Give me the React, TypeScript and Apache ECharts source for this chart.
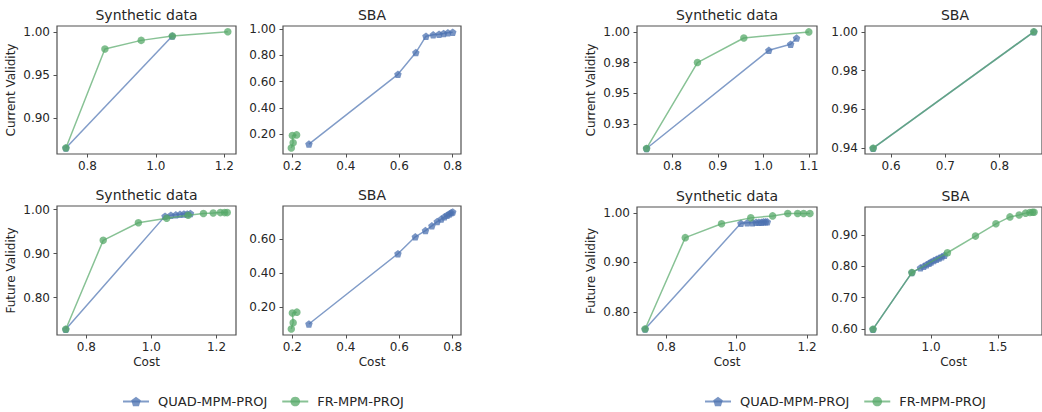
import React, { useEffect, useRef } from "react";
import * as echarts from "echarts";

// ---------- data ----------
const seriesNames = ["QUAD-MPM-PROJ", "FR-MPM-PROJ"];
const panelTitles = ["Synthetic data", "SBA", "Synthetic data", "SBA", "Synthetic data", "SBA", "Synthetic data", "SBA"];
const yAxisNames = ["Current Validity", "", "Future Validity", "", "Current Validity", "", "Future Validity", ""];
const xAxisNames = ["", "", "Cost", "Cost", "", "", "Cost", "Cost"];

// Panel 1: left, Synthetic data, current validity
const p1QuadX = [0.737, 1.048];
const p1QuadY = [0.865, 0.995];
const p1FrX = [0.737, 0.851, 0.957, 1.048, 1.21];
const p1FrY = [0.865, 0.98, 0.99, 0.995, 1.0];

// Panel 2: left, SBA, current validity
const p2QuadX = [0.262, 0.595, 0.662, 0.7, 0.727, 0.749, 0.766, 0.782, 0.8];
const p2QuadY = [0.125, 0.655, 0.82, 0.945, 0.955, 0.96, 0.965, 0.97, 0.975];
const p2FrX = [0.196, 0.203, 0.2, 0.216];
const p2FrY = [0.095, 0.135, 0.19, 0.195];

// Panel 3: left, Synthetic data, future validity
const p3QuadX = [0.737, 1.042, 1.06, 1.075, 1.088, 1.1, 1.11, 1.12];
const p3QuadY = [0.728, 0.985, 0.987, 0.988, 0.989, 0.99, 0.99, 0.991];
const p3FrX = [0.737, 0.852, 0.96, 1.047, 1.113, 1.16, 1.19, 1.212, 1.225, 1.233];
const p3FrY = [0.728, 0.93, 0.97, 0.98, 0.987, 0.991, 0.992, 0.993, 0.993, 0.993];

// Panel 4: left, SBA, future validity
const p4QuadX = [0.262, 0.595, 0.66, 0.698, 0.722, 0.742, 0.757, 0.769, 0.779, 0.787, 0.794, 0.8];
const p4QuadY = [0.1, 0.515, 0.615, 0.652, 0.68, 0.705, 0.72, 0.733, 0.743, 0.75, 0.757, 0.762];
const p4FrX = [0.196, 0.203, 0.2, 0.217];
const p4FrY = [0.07, 0.108, 0.165, 0.17];

// Panel 5: right, Synthetic data, current validity
const p5QuadX = [0.743, 1.012, 1.06, 1.073];
const p5QuadY = [0.905, 0.985, 0.99, 0.995];
const p5FrX = [0.743, 0.855, 0.957, 1.1];
const p5FrY = [0.905, 0.975, 0.995, 1.0];

// Panel 6: right, SBA, current validity
const p6QuadX = [0.567, 0.863];
const p6QuadY = [0.94, 1.0];
const p6FrX = [0.567, 0.863];
const p6FrY = [0.94, 1.0];

// Panel 7: right, Synthetic data, future validity
const p7QuadX = [0.74, 1.012, 1.03, 1.045, 1.055, 1.063, 1.07, 1.076, 1.082, 1.087];
const p7QuadY = [0.765, 0.979, 0.98, 0.98, 0.981, 0.981, 0.981, 0.982, 0.982, 0.982];
const p7FrX = [0.74, 0.854, 0.957, 1.04, 1.102, 1.145, 1.173, 1.19, 1.208];
const p7FrY = [0.765, 0.95, 0.978, 0.99, 0.994, 0.999, 0.999, 0.999, 0.999];

// Panel 8: right, SBA, future validity
const p8QuadX = [0.565, 0.856, 0.92, 0.945, 0.965, 0.985, 1.0, 1.02, 1.04, 1.06, 1.08, 1.1];
const p8QuadY = [0.6, 0.78, 0.795, 0.8, 0.805, 0.81, 0.814, 0.818, 0.822, 0.826, 0.83, 0.835];
const p8FrX = [0.565, 0.856, 1.122, 1.332, 1.485, 1.59, 1.659, 1.707, 1.739, 1.759, 1.771];
const p8FrY = [0.6, 0.78, 0.843, 0.896, 0.935, 0.957, 0.963, 0.969, 0.971, 0.972, 0.972];

// tick values
const p1XTicks = [0.8, 1.0, 1.2];
const p1YTicks = [0.9, 0.95, 1.0];
const p2XTicks = [0.2, 0.4, 0.6, 0.8];
const p2YTicks = [0.2, 0.4, 0.6, 0.8, 1.0];
const p3XTicks = [0.8, 1.0, 1.2];
const p3YTicks = [0.8, 0.9, 1.0];
const p4XTicks = [0.2, 0.4, 0.6, 0.8];
const p4YTicks = [0.2, 0.4, 0.6];
const p5XTicks = [0.8, 0.9, 1.0, 1.1];
const p5YTicks = [0.925, 0.95, 0.975, 1.0];
const p6XTicks = [0.6, 0.7, 0.8];
const p6YTicks = [0.94, 0.96, 0.98, 1.0];
const p7XTicks = [0.8, 1.0, 1.2];
const p7YTicks = [0.8, 0.9, 1.0];
const p8XTicks = [1.0, 1.5];
const p8YTicks = [0.6, 0.7, 0.8, 0.9];

// ---------- styling / layout ----------
const FONT = "DejaVu Sans";
const TEXT = "#262626";
const SPINE = "#505050";
const BLUE = "#4c72b0";
const GREEN = "#55a868";
const PENTAGON = "path://M0,-10L9.51,-3.09L5.88,8.09L-5.88,8.09L-9.51,-3.09Z";

const layout = [
  { left: 57, top: 26, width: 179, height: 128, xMin: 0.711, xMax: 1.234, yMin: 0.858, yMax: 1.0067 },
  { left: 283, top: 26, width: 178, height: 128, xMin: 0.165, xMax: 0.831, yMin: 0.05, yMax: 1.022 },
  { left: 57, top: 206, width: 179, height: 129, xMin: 0.71, xMax: 1.26, yMin: 0.715, yMax: 1.008 },
  { left: 283, top: 206, width: 178, height: 129, xMin: 0.165, xMax: 0.831, yMin: 0.035, yMax: 0.797 },
  { left: 637, top: 26, width: 180, height: 128, xMin: 0.722, xMax: 1.118, yMin: 0.9005, yMax: 1.0048 },
  { left: 865, top: 26, width: 180, height: 128, xMin: 0.552, xMax: 0.878, yMin: 0.937, yMax: 1.003 },
  { left: 637, top: 207, width: 180, height: 128, xMin: 0.717, xMax: 1.228, yMin: 0.753, yMax: 1.012 },
  { left: 865, top: 207, width: 181, height: 128, xMin: 0.505, xMax: 1.83, yMin: 0.5815, yMax: 0.9885 },
];

const quadData = [
  [p1QuadX, p1QuadY], [p2QuadX, p2QuadY], [p3QuadX, p3QuadY], [p4QuadX, p4QuadY],
  [p5QuadX, p5QuadY], [p6QuadX, p6QuadY], [p7QuadX, p7QuadY], [p8QuadX, p8QuadY],
];
const frData = [
  [p1FrX, p1FrY], [p2FrX, p2FrY], [p3FrX, p3FrY], [p4FrX, p4FrY],
  [p5FrX, p5FrY], [p6FrX, p6FrY], [p7FrX, p7FrY], [p8FrX, p8FrY],
];
const xTicks = [p1XTicks, p2XTicks, p3XTicks, p4XTicks, p5XTicks, p6XTicks, p7XTicks, p8XTicks];
const yTicks = [p1YTicks, p2YTicks, p3YTicks, p4YTicks, p5YTicks, p6YTicks, p7YTicks, p8YTicks];

const zip = (xs: number[], ys: number[]) => xs.map((x, i) => [x, ys[i]]);
const fmt = (d: number) => (v: number) => (Math.round(v * Math.pow(10, d) + 1e-6) / Math.pow(10, d)).toFixed(d);

function buildOption() {
  const grid = layout.map((l) => ({
    left: l.left, top: l.top, width: l.width, height: l.height,
    show: true, borderColor: SPINE, borderWidth: 1.2, backgroundColor: "transparent", containLabel: false,
  }));
  const xAxis = layout.map((l, i) => ({
    type: "value", gridIndex: i, min: l.xMin, max: l.xMax,
    name: xAxisNames[i], nameLocation: "middle", nameGap: 21,
    nameTextStyle: { fontFamily: FONT, fontSize: 12, color: TEXT },
    axisLine: { show: false },
    splitLine: { show: false },
    axisTick: { show: true, customValues: xTicks[i], length: 3.5, lineStyle: { color: SPINE, width: 1 } },
    axisLabel: { customValues: xTicks[i], formatter: fmt(1), margin: 6, fontFamily: FONT, fontSize: 12, color: TEXT },
  }));
  const yAxis = layout.map((l, i) => ({
    type: "value", gridIndex: i, min: l.yMin, max: l.yMax,
    name: yAxisNames[i], nameLocation: "middle", nameGap: 40,
    nameTextStyle: { fontFamily: FONT, fontSize: 12, color: TEXT },
    axisLine: { show: false },
    splitLine: { show: false },
    axisTick: { show: true, customValues: yTicks[i], length: 3.5, lineStyle: { color: SPINE, width: 1 } },
    axisLabel: { customValues: yTicks[i], formatter: fmt(2), margin: 7, fontFamily: FONT, fontSize: 12, color: TEXT },
  }));
  const series: any[] = [];
  layout.forEach((_, i) => {
    series.push({
      type: "line", name: seriesNames[0], xAxisIndex: i, yAxisIndex: i,
      data: zip(quadData[i][0], quadData[i][1]),
      symbol: PENTAGON, symbolSize: 7.5, showAllSymbol: true,
      lineStyle: { color: BLUE, width: 1.5, opacity: 0.7 },
      itemStyle: { color: BLUE, opacity: 0.75 },
      emphasis: { disabled: true }, z: 2,
    });
    series.push({
      type: "line", name: seriesNames[1], xAxisIndex: i, yAxisIndex: i,
      data: zip(frData[i][0], frData[i][1]),
      symbol: "circle", symbolSize: 7.5, showAllSymbol: true,
      lineStyle: { color: GREEN, width: 1.5, opacity: 0.7 },
      itemStyle: { color: GREEN, opacity: 0.75 },
      emphasis: { disabled: true }, z: 3,
    });
  });
  const graphic = layout.map((l, i) => ({
    type: "text",
    x: l.left + l.width / 2,
    y: l.top - 11,
    style: {
      text: panelTitles[i], fontFamily: FONT, fontSize: 14, fill: TEXT,
      textAlign: "center", textVerticalAlign: "middle",
    },
  }));
  const legendBase = {
    orient: "horizontal", top: 390, padding: 5, itemWidth: 26, itemHeight: 12, itemGap: 14,
    selectedMode: false, data: seriesNames,
    textStyle: { fontFamily: FONT, fontSize: 13, color: TEXT, padding: [0, 0, 0, 4] },
  };
  const legend = [
    { ...legendBase, left: 117 },
    { ...legendBase, left: 699 },
  ];
  return { animation: false, backgroundColor: "#ffffff", grid, xAxis, yAxis, series, graphic, legend };
}

export default function App() {
  const ref = useRef<HTMLDivElement>(null);
  useEffect(() => {
    if (!ref.current) return;
    const chart = echarts.init(ref.current, null, { renderer: "svg" });
    chart.setOption(buildOption() as any);
    return () => chart.dispose();
  }, []);
  return (
    <div
      ref={ref}
      style={{ position: "fixed", left: 0, top: 0, width: 1042, height: 412, background: "#fff" }}
    />
  );
}
